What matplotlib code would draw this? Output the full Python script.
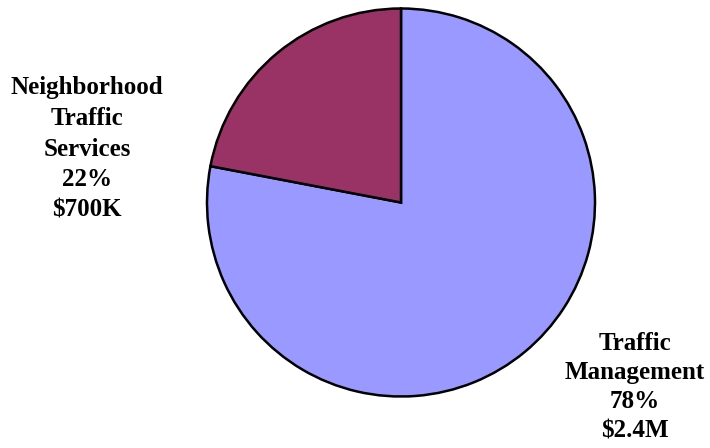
import matplotlib.pyplot as plt

# budget split
names = ['Traffic\nManagement', 'Neighborhood\nTraffic\nServices']
shares = [78, 22]
amounts = ['$2.4M', '$700K']
colors = ['#9999FF', '#993366']

fig = plt.figure(figsize=(7.1, 4.48), dpi=100)
ax = fig.add_axes([0, 0, 1, 1])

ax.pie(shares, colors=colors, startangle=90, counterclock=False,
       center=(401, 245.5), radius=194, frame=True,
       wedgeprops=dict(edgecolor='black', linewidth=1.8))
ax.set_xlim(0, 710)
ax.set_ylim(0, 448)
ax.set_aspect('equal')
ax.axis('off')

label_pos = [(635, 61), (87, 299)]
spacing = [1.34, 1.42]
for name, pct, amt, (x, y), ls in zip(names, shares, amounts, label_pos, spacing):
    ax.text(x, y, '%s\n%d%%\n%s' % (name, pct, amt), ha='center', va='center',
            fontsize=18, fontweight='bold', family='Liberation Serif',
            linespacing=ls)

plt.savefig('out.png', dpi=100)
